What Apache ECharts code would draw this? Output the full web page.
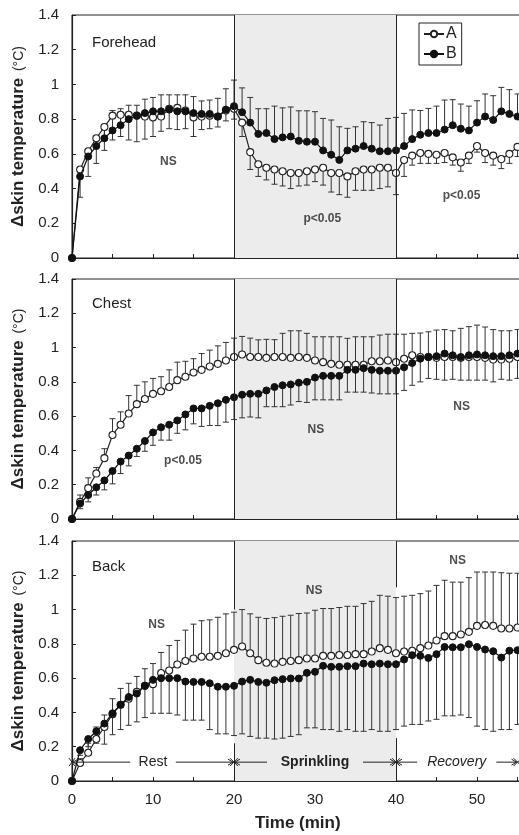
<!DOCTYPE html>
<html><head><meta charset="utf-8">
<script src="https://cdn.jsdelivr.net/npm/echarts@6/dist/echarts.min.js"></script>
<style>html,body{margin:0;padding:0;background:#fff}#c{width:519px;height:835px}</style>
</head><body><div id="c"></div>
<script>
// ---------------- data ----------------
const minutes = [0,1,2,3,4,5,6,7,8,9,10,11,12,13,14,15,16,17,18,19,20,21,22,23,24,25,26,27,28,29,30,31,32,33,34,35,36,37,38,39,40,41,42,43,44,45,46,47,48,49,50,51,52,53,54,55];

const foreheadA = [0,0.51,0.615,0.69,0.755,0.82,0.825,0.825,0.82,0.815,0.81,0.815,0.86,0.865,0.85,0.81,0.815,0.82,0.815,0.85,0.86,0.78,0.61,0.54,0.52,0.51,0.5,0.49,0.49,0.5,0.51,0.52,0.49,0.49,0.47,0.5,0.51,0.51,0.52,0.52,0.49,0.565,0.59,0.605,0.6,0.595,0.605,0.58,0.55,0.59,0.645,0.605,0.59,0.57,0.6,0.64];
const foreheadB = [0,0.47,0.585,0.645,0.69,0.735,0.765,0.8,0.82,0.835,0.845,0.845,0.855,0.845,0.845,0.835,0.83,0.83,0.815,0.855,0.875,0.84,0.78,0.715,0.72,0.685,0.695,0.7,0.675,0.67,0.67,0.62,0.595,0.565,0.62,0.63,0.645,0.63,0.615,0.615,0.62,0.645,0.685,0.71,0.72,0.72,0.74,0.765,0.745,0.735,0.78,0.815,0.795,0.845,0.83,0.815];
const foreheadAErrEnd = [null,0.35,0.47,0.545,0.62,0.68,0.7,0.68,0.67,0.685,0.7,0.73,0.745,0.74,0.745,0.7,0.74,0.745,0.755,0.79,0.8,0.7,0.51,0.47,0.45,0.425,0.415,0.4,0.415,0.42,0.44,0.42,0.38,0.365,0.35,0.39,0.39,0.39,0.4,0.41,0.365,0.47,0.535,0.545,0.545,0.545,0.55,0.535,0.5,0.545,0.61,0.55,0.535,0.515,0.545,0.585];
const foreheadBErrEnd = [null,0.5,0.62,0.7,0.76,0.85,0.86,0.88,0.88,0.915,0.925,0.94,0.94,0.94,0.94,0.93,0.905,0.91,0.92,0.975,1.025,0.98,0.925,0.86,0.86,0.875,0.865,0.87,0.848,0.848,0.843,0.804,0.795,0.756,0.747,0.756,0.785,0.78,0.766,0.804,0.81,0.833,0.853,0.85,0.862,0.875,0.91,0.912,0.887,0.875,0.906,0.945,0.935,0.983,0.97,0.945];

const chestA = [0,0.1,0.18,0.265,0.355,0.49,0.55,0.615,0.67,0.7,0.73,0.745,0.77,0.81,0.83,0.855,0.87,0.89,0.905,0.925,0.945,0.96,0.945,0.945,0.94,0.945,0.945,0.94,0.945,0.94,0.925,0.915,0.905,0.9,0.9,0.9,0.9,0.92,0.92,0.925,0.915,0.935,0.955,0.945,0.945,0.94,0.945,0.945,0.94,0.945,0.945,0.94,0.93,0.93,0.935,0.945];
const chestB = [0,0.09,0.14,0.185,0.225,0.28,0.335,0.37,0.41,0.455,0.505,0.535,0.55,0.575,0.61,0.645,0.645,0.66,0.675,0.695,0.71,0.725,0.73,0.73,0.75,0.77,0.78,0.785,0.795,0.8,0.825,0.835,0.835,0.835,0.87,0.87,0.88,0.87,0.865,0.865,0.865,0.885,0.91,0.935,0.945,0.95,0.965,0.955,0.945,0.955,0.96,0.955,0.95,0.95,0.955,0.965];
const chestAErrEnd = [null,0.14,0.24,0.3,0.41,0.585,0.625,0.72,0.78,0.8,0.82,0.83,0.87,0.915,0.92,0.935,0.965,0.985,1.01,1.03,1.055,1.065,1.055,1.045,1.048,1.046,1.083,1.098,1.098,1.083,1.063,1.063,1.063,1.063,1.054,1.063,1.063,1.063,1.073,1.078,1.078,1.078,1.083,1.085,1.092,1.102,1.105,1.098,1.112,1.122,1.131,1.12,1.105,1.098,1.098,1.105];
const chestBErrEnd = [null,0.06,0.1,0.14,0.17,0.205,0.265,0.31,0.365,0.395,0.43,0.46,0.46,0.5,0.52,0.555,0.54,0.545,0.545,0.565,0.58,0.59,0.595,0.59,0.655,0.655,0.655,0.665,0.685,0.68,0.695,0.695,0.695,0.695,0.74,0.74,0.74,0.735,0.73,0.73,0.73,0.75,0.78,0.8,0.82,0.815,0.81,0.815,0.81,0.81,0.81,0.81,0.8,0.815,0.81,0.82];

const backA = [0,0.105,0.165,0.245,0.315,0.39,0.445,0.48,0.52,0.555,0.565,0.63,0.645,0.68,0.7,0.715,0.725,0.725,0.73,0.745,0.765,0.785,0.745,0.705,0.69,0.685,0.695,0.7,0.705,0.715,0.715,0.73,0.73,0.735,0.735,0.74,0.74,0.755,0.775,0.765,0.745,0.755,0.76,0.775,0.79,0.82,0.845,0.845,0.855,0.87,0.905,0.91,0.905,0.89,0.89,0.895];
const backB = [0,0.18,0.245,0.29,0.335,0.395,0.445,0.49,0.51,0.555,0.59,0.6,0.6,0.6,0.58,0.578,0.578,0.57,0.55,0.55,0.555,0.58,0.59,0.578,0.573,0.588,0.594,0.598,0.598,0.631,0.637,0.672,0.666,0.666,0.67,0.67,0.685,0.681,0.685,0.681,0.681,0.709,0.734,0.73,0.718,0.74,0.782,0.78,0.78,0.798,0.782,0.767,0.757,0.72,0.76,0.763];
const backAErrEnd = [null,0.13,0.22,0.315,0.385,0.48,0.54,0.57,0.61,0.655,0.685,0.75,0.79,0.82,0.88,0.915,0.935,0.94,0.955,0.975,0.985,1.0,0.975,0.955,0.948,0.953,0.961,0.967,0.977,0.98,0.996,1.006,1.006,1.012,1.019,1.019,1.035,1.048,1.083,1.078,1.07,1.078,1.083,1.093,1.108,1.141,1.171,1.16,1.16,1.186,1.219,1.219,1.219,1.215,1.212,1.212];
const backBErrEnd = [null,0.15,0.2,0.22,0.215,0.27,0.3,0.325,0.345,0.37,0.395,0.395,0.395,0.385,0.355,0.355,0.355,0.3,0.275,0.275,0.265,0.275,0.26,0.25,0.25,0.245,0.25,0.26,0.27,0.31,0.31,0.3,0.3,0.29,0.3,0.29,0.29,0.3,0.29,0.29,0.3,0.32,0.33,0.33,0.35,0.36,0.38,0.38,0.385,0.37,0.32,0.3,0.29,0.3,0.3,0.33];

const panelNames = ['Forehead', 'Chest', 'Back'];
const sprinkleStart = 20, sprinkleEnd = 40;
const yTicks = [0, 0.2, 0.4, 0.6, 0.8, 1, 1.2, 1.4];
const xTicks = [0, 10, 20, 30, 40, 50, 60];

// significance notes: [minute, value, text]
const notesForehead = [[11.9, 0.555, 'NS'], [30.9, 0.225, 'p<0.05'], [48.1, 0.357, 'p<0.05']];
const notesChest = [[13.7, 0.338, 'p<0.05'], [30.1, 0.52, 'NS'], [48.1, 0.654, 'NS']];
const notesBack = [[10.45, 0.909, 'NS'], [29.9, 1.112, 'NS'], [47.6, 1.283, 'NS']];

// protocol phases shown in the back panel
const phaseStart = [0, 20, 40];
const phaseEnd = [20, 40, 55];
const phaseLabel = ['Rest', 'Sprinkling', 'Recovery'];
const phaseLevel = 0.11;

// ---------------- chart ----------------
const INK = '#222';
const FONT = 'Liberation Sans, Arial, sans-serif';
const chart = echarts.init(document.getElementById('c'));

const gridBoxes = [
  {left: 72, width: 486, top: 15, height: 243},
  {left: 72, width: 486, top: 279, height: 240},
  {left: 72, width: 486, top: 541, height: 240}
];
const grids = gridBoxes.map(g => Object.assign({show: true, borderColor: INK, borderWidth: 1, backgroundColor: 'rgba(0,0,0,0)', containLabel: false, outerBoundsMode: 'none'}, g));

const xAxes = gridBoxes.map((g, i) => ({
  type: 'value', gridIndex: i, min: xTicks[0], max: xTicks[xTicks.length - 1], interval: 5,
  axisLine: {show: true, onZero: false, lineStyle: {color: INK, width: 1.2}},
  axisTick: {show: true, inside: true, length: 4, lineStyle: {color: INK}},
  axisLabel: {show: i === 2, formatter: v => (xTicks.indexOf(v) >= 0 ? String(v) : ''), fontSize: 15, color: INK, margin: 11, fontFamily: FONT},
  splitLine: {show: false}
}));

const yAxes = gridBoxes.map((g, i) => ({
  type: 'value', gridIndex: i, min: yTicks[0], max: yTicks[yTicks.length - 1], interval: 0.2,
  axisLine: {show: true, onZero: false, lineStyle: {color: INK, width: 1.2}},
  axisTick: {show: true, inside: true, length: 4, lineStyle: {color: INK}},
  axisLabel: {fontSize: 15, color: INK, margin: 13, fontFamily: FONT, formatter: v => String(Math.round(v * 10) / 10)},
  splitLine: {show: false},
  name: '{a|\u0394skin temperature}  {b|(\u00B0C)}',
  nameLocation: 'middle', nameRotate: 90, nameGap: 32,
  nameTextStyle: {rich: {
    a: {fontSize: 17, fontWeight: 'bold', color: INK, fontFamily: FONT},
    b: {fontSize: 14, color: INK, fontFamily: FONT}
  }}
}));

function errRender(params, api) {
  const x = api.value(0), y = api.value(1), e = api.value(2);
  const p1 = api.coord([x, y]), p2 = api.coord([x, e]);
  return {type: 'group', children: [
    {type: 'line', shape: {x1: p1[0], y1: p1[1], x2: p2[0], y2: p2[1]}, style: {stroke: '#333', lineWidth: 1}},
    {type: 'line', shape: {x1: p2[0] - 3, y1: p2[1], x2: p2[0] + 3, y2: p2[1]}, style: {stroke: '#333', lineWidth: 1}}
  ]};
}

function errData(means, ends) {
  const out = [];
  minutes.forEach((t, i) => { if (ends[i] !== null) out.push([t, means[i], ends[i]]); });
  return out;
}

const panels = [
  {A: foreheadA, B: foreheadB, eA: foreheadAErrEnd, eB: foreheadBErrEnd, notes: notesForehead},
  {A: chestA, B: chestB, eA: chestAErrEnd, eB: chestBErrEnd, notes: notesChest},
  {A: backA, B: backB, eA: backAErrEnd, eB: backBErrEnd, notes: notesBack}
];

const series = [];
panels.forEach((p, i) => {
  const vlines = i < 2
    ? [{xAxis: sprinkleStart}, {xAxis: sprinkleEnd}]
    : [
        [{coord: [sprinkleStart, 1.0]}, {coord: [sprinkleStart, 1.4]}],
        [{coord: [sprinkleEnd, 1.13]}, {coord: [sprinkleEnd, 1.4]}],
        [{coord: [sprinkleStart, 0]}, {coord: [sprinkleStart, 0.22]}],
        [{coord: [sprinkleEnd, 0]}, {coord: [sprinkleEnd, 0.25]}]
      ];
  series.push({
    type: 'line', name: 'bg' + i, xAxisIndex: i, yAxisIndex: i, data: [], z: 0, silent: true,
    markArea: {silent: true, itemStyle: {color: '#ececec'}, data: [[{xAxis: sprinkleStart}, {xAxis: sprinkleEnd}]]},
    markLine: {silent: true, symbol: ['none', 'none'], label: {show: false}, lineStyle: {color: INK, type: 'solid', width: 1}, data: vlines}
  });
  series.push({type: 'custom', name: 'errA' + i, xAxisIndex: i, yAxisIndex: i, z: 2, silent: true, renderItem: errRender, data: errData(p.A, p.eA)});
  series.push({type: 'custom', name: 'errB' + i, xAxisIndex: i, yAxisIndex: i, z: 2, silent: true, renderItem: errRender, data: errData(p.B, p.eB)});
  series.push({
    type: 'line', name: 'A', xAxisIndex: i, yAxisIndex: i, z: 3,
    data: minutes.map((t, k) => [t, p.A[k]]),
    symbol: 'circle', symbolSize: 7, showAllSymbol: true,
    lineStyle: {color: INK, width: 1.2},
    itemStyle: {color: '#fff', borderColor: INK, borderWidth: 1.1}
  });
  series.push({
    type: 'line', name: 'B', xAxisIndex: i, yAxisIndex: i, z: 4,
    data: minutes.map((t, k) => [t, p.B[k]]),
    symbol: 'circle', symbolSize: 7, showAllSymbol: true,
    lineStyle: {color: '#111', width: 1.2},
    itemStyle: {color: '#111', borderColor: '#111', borderWidth: 1}
  });
  series.push({
    type: 'scatter', name: 'notes' + i, xAxisIndex: i, yAxisIndex: i, z: 5, silent: true, symbolSize: 0,
    data: p.notes.map(n => ({value: [n[0], n[1]], name: n[2]})),
    label: {show: true, position: 'inside', formatter: '{b}', color: INK, fontSize: 12, fontWeight: 'bold', fontFamily: FONT}
  });
});

// phases annotation (back panel)
series.push({
  type: 'custom', name: 'phases', xAxisIndex: 2, yAxisIndex: 2, z: 6, silent: true,
  data: phaseStart.map((s, k) => [s, phaseEnd[k], phaseLevel, k]),
  renderItem: function (params, api) {
    const s = api.coord([api.value(0), api.value(2)]);
    const e = api.coord([api.value(1), api.value(2)]);
    const k = api.value(3);
    const lbl = phaseLabel[k];
    const mid = (s[0] + e[0]) / 2;
    const half = lbl.length * 4.2 + 6;
    const y = s[1];
    const ch = [
      {type: 'line', shape: {x1: s[0], y1: y, x2: mid - half, y2: y}, style: {stroke: INK, lineWidth: 1}},
      {type: 'line', shape: {x1: mid + half, y1: y, x2: e[0], y2: y}, style: {stroke: INK, lineWidth: 1}},
      {type: 'polyline', shape: {points: [[s[0] + 6, y - 3], [s[0] + 1, y], [s[0] + 6, y + 3]]}, style: {stroke: INK, fill: null, lineWidth: 1}},
      {type: 'polyline', shape: {points: [[e[0] - 6, y - 3], [e[0] - 1, y], [e[0] - 6, y + 3]]}, style: {stroke: INK, fill: null, lineWidth: 1}},
      {type: 'line', shape: {x1: e[0] - 4, y1: y - 4, x2: e[0] + 4, y2: y + 4}, style: {stroke: INK, lineWidth: 1}},
      {type: 'line', shape: {x1: e[0] - 4, y1: y + 4, x2: e[0] + 4, y2: y - 4}, style: {stroke: INK, lineWidth: 1}},
      {type: 'text', x: mid, y: y, style: {text: lbl, x: 0, y: 0, align: 'center', verticalAlign: 'middle', fill: INK,
        font: (k === 1 ? 'bold ' : (k === 2 ? 'italic ' : '')) + '14px ' + FONT}}
    ];
    if (k === 0) {
      ch.push({type: 'line', shape: {x1: s[0] - 3, y1: y - 4, x2: s[0] + 3, y2: y + 4}, style: {stroke: INK, lineWidth: 1}});
      ch.push({type: 'line', shape: {x1: s[0] - 3, y1: y + 4, x2: s[0] + 3, y2: y - 4}, style: {stroke: INK, lineWidth: 1}});
    }
    return {type: 'group', children: ch};
  }
});

const option = {
  backgroundColor: '#fff',
  animation: false,
  grid: grids,
  xAxis: xAxes,
  yAxis: yAxes,
  title: panelNames.map((n, i) => ({
    text: n, left: 87, top: [30, 291, 554][i],
    textStyle: {fontSize: 15, fontWeight: 'normal', color: INK, fontFamily: FONT}
  })),
  legend: {
    data: ['A', 'B'], orient: 'vertical', left: 419, top: 23,
    backgroundColor: '#fff', borderColor: INK, borderWidth: 1, borderRadius: 0,
    padding: [3, 5, 3, 4], itemGap: 4, itemWidth: 20, itemHeight: 8,
    textStyle: {fontSize: 16, color: INK, fontFamily: FONT, padding: [0, 0, 0, -3]}
  },
  graphic: [{
    type: 'text', left: 255, top: 815,
    style: {text: 'Time (min)', font: 'bold 17px ' + FONT, fill: INK}
  }],
  series: series
};
chart.setOption(option);
</script>
</body></html>
